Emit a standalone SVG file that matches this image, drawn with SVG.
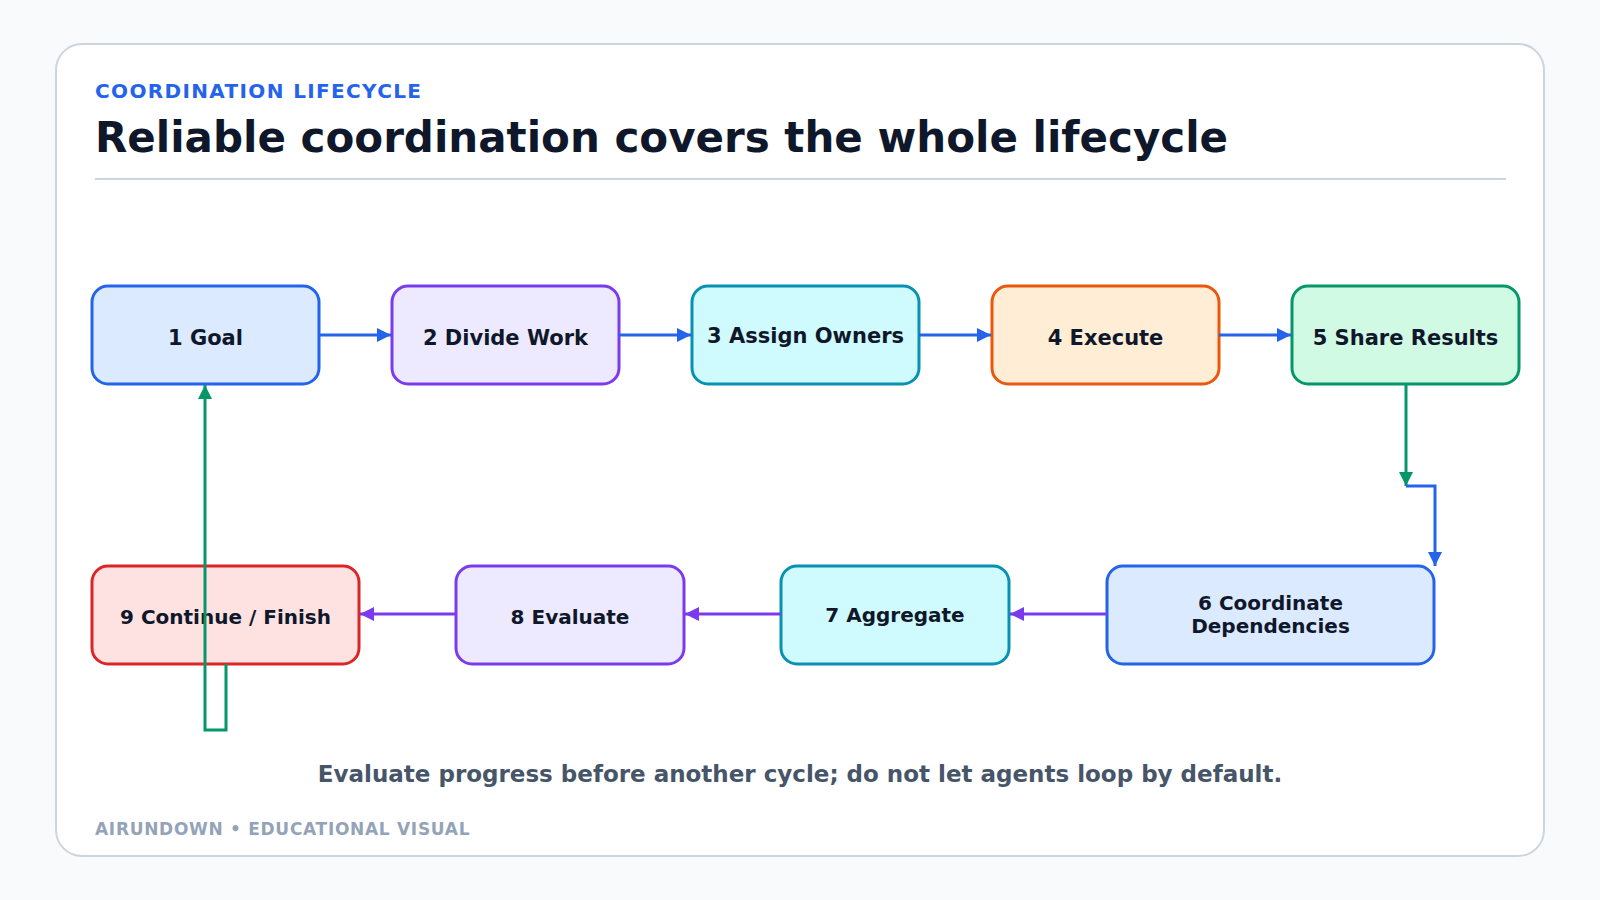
<svg xmlns="http://www.w3.org/2000/svg" width="1600" height="900" viewBox="0 0 1600 900">
  <style>
    text { font-family: "DejaVu Sans", "Liberation Sans", sans-serif; font-weight: bold; }
    .node text { font-size: 21px; fill: #0f172a; text-anchor: middle; }
    .row2 text { font-size: 20px; }
    .node rect { stroke-width: 3; }
    .blue rect { fill: #dbeafe; stroke: #2563eb; }
    .purple rect { fill: #ede9fe; stroke: #7c3aed; }
    .cyan rect { fill: #cffafe; stroke: #0891b2; }
    .orange rect { fill: #ffedd5; stroke: #ea580c; }
    .green rect { fill: #d1fae5; stroke: #059669; }
    .red rect { fill: #fee2e2; stroke: #dc2626; }
    .edge { fill: none; stroke-width: 3; }
    .e-blue { stroke: #2563eb; }
    .e-purple { stroke: #7c3aed; }
    .e-green { stroke: #059669; }
  </style>
  <defs>
    <marker id="ah-blue" viewBox="0 0 14 14" refX="14" refY="7" markerWidth="14" markerHeight="14" markerUnits="userSpaceOnUse" orient="auto">
      <path d="M0,0 L14,7 L0,14 Z" fill="#2563eb"/>
    </marker>
    <marker id="ah-purple" viewBox="0 0 14 14" refX="14" refY="7" markerWidth="14" markerHeight="14" markerUnits="userSpaceOnUse" orient="auto">
      <path d="M0,0 L14,7 L0,14 Z" fill="#7c3aed"/>
    </marker>
    <marker id="ah-green" viewBox="0 0 14 14" refX="14" refY="7" markerWidth="14" markerHeight="14" markerUnits="userSpaceOnUse" orient="auto">
      <path d="M0,0 L14,7 L0,14 Z" fill="#059669"/>
    </marker>
  </defs>

  <rect x="0" y="0" width="1600" height="900" fill="#f8fafc"/>
  <rect id="card" x="56" y="44" width="1488" height="812" rx="26" fill="#ffffff" stroke="#cbd5e1" stroke-width="2"/>

  <g id="header">
    <text x="95" y="98" font-size="20" fill="#2563eb" letter-spacing="1.35">COORDINATION LIFECYCLE</text>
    <text x="95" y="152" font-size="42" fill="#0f172a">Reliable coordination covers the whole lifecycle</text>
    <line x1="95" y1="179" x2="1506" y2="179" stroke="#cbd5e1" stroke-width="2"/>
  </g>

  <g id="n1" class="node blue">
    <rect x="92" y="286" width="227" height="98" rx="16"/>
    <text x="205.5" y="345">1 Goal</text>
  </g>
  <g id="n2" class="node purple">
    <rect x="392" y="286" width="227" height="98" rx="16"/>
    <text x="505.5" y="345">2 Divide Work</text>
  </g>
  <g id="n3" class="node cyan">
    <rect x="692" y="286" width="227" height="98" rx="16"/>
    <text x="805.5" y="343">3 Assign Owners</text>
  </g>
  <g id="n4" class="node orange">
    <rect x="992" y="286" width="227" height="98" rx="16"/>
    <text x="1105.5" y="345">4 Execute</text>
  </g>
  <g id="n5" class="node green">
    <rect x="1292" y="286" width="227" height="98" rx="16"/>
    <text x="1405.5" y="345">5 Share Results</text>
  </g>
  <g id="n6" class="node blue row2">
    <rect x="1107" y="566" width="327" height="98" rx="16"/>
    <text x="1270.5" y="610">6 Coordinate</text>
    <text x="1270.5" y="633">Dependencies</text>
  </g>
  <g id="n7" class="node cyan row2">
    <rect x="781" y="566" width="228" height="98" rx="16"/>
    <text x="895" y="622">7 Aggregate</text>
  </g>
  <g id="n8" class="node purple row2">
    <rect x="456" y="566" width="228" height="98" rx="16"/>
    <text x="570" y="624">8 Evaluate</text>
  </g>
  <g id="n9" class="node red row2">
    <rect x="92" y="566" width="267" height="98" rx="16"/>
    <text x="225.5" y="624">9 Continue / Finish</text>
  </g>

  <g id="connectors">
    <line class="edge e-blue" x1="319" y1="335" x2="391" y2="335" marker-end="url(#ah-blue)"/>
    <line class="edge e-blue" x1="619" y1="335" x2="691" y2="335" marker-end="url(#ah-blue)"/>
    <line class="edge e-blue" x1="919" y1="335" x2="991" y2="335" marker-end="url(#ah-blue)"/>
    <line class="edge e-blue" x1="1219" y1="335" x2="1291" y2="335" marker-end="url(#ah-blue)"/>
    <line class="edge e-green" x1="1406" y1="384" x2="1406" y2="486" marker-end="url(#ah-green)"/>
    <path class="edge e-blue" d="M1406,486 L1435,486 L1435,566" marker-end="url(#ah-blue)"/>
    <line class="edge e-purple" x1="1107" y1="614" x2="1010" y2="614" marker-end="url(#ah-purple)"/>
    <line class="edge e-purple" x1="781" y1="614" x2="685" y2="614" marker-end="url(#ah-purple)"/>
    <line class="edge e-purple" x1="456" y1="614" x2="360" y2="614" marker-end="url(#ah-purple)"/>
    <path class="edge e-green" d="M226,664 L226,730 L205,730 L205,385" marker-end="url(#ah-green)"/>
  </g>

  <g id="footer">
    <text x="800" y="782" font-size="23" fill="#475569" text-anchor="middle">Evaluate progress before another cycle; do not let agents loop by default.</text>
    <text x="95" y="835" font-size="17" fill="#94a3b8" letter-spacing="0.7">AIRUNDOWN • EDUCATIONAL VISUAL</text>
  </g>
</svg>
